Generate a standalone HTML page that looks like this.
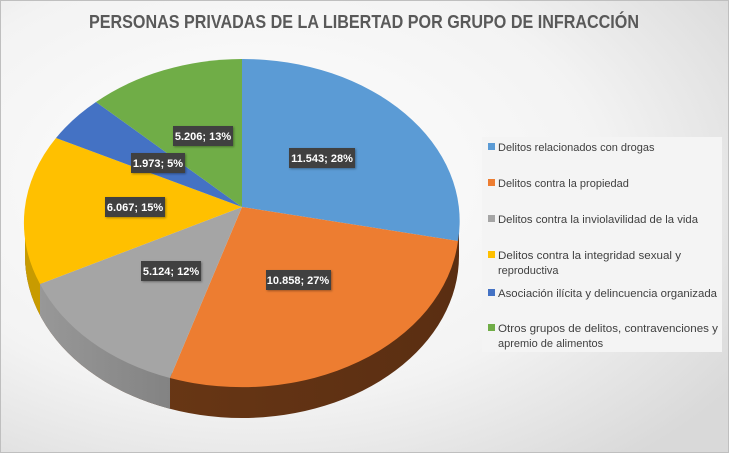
<!DOCTYPE html><html><head><meta charset="utf-8"><style>
html,body{margin:0;padding:0;width:729px;height:453px;overflow:hidden;background:#fff}
svg text{font-family:"Liberation Sans",sans-serif}
</style></head><body>
<svg width="729" height="453" viewBox="0 0 729 453" xmlns="http://www.w3.org/2000/svg">
<defs>
<radialGradient id="bg" cx="0.35" cy="0.4" r="0.8"><stop offset="0" stop-color="#ffffff"/><stop offset="0.6" stop-color="#f3f3f3"/><stop offset="1" stop-color="#d9d9d9"/></radialGradient>
<linearGradient id="gs" x1="0" x2="1" y1="0" y2="0"><stop offset="0" stop-color="#9a9a9a"/><stop offset="1" stop-color="#555"/></linearGradient>
<linearGradient id="os" x1="0" x2="1"><stop offset="0" stop-color="#6e3a16"/><stop offset="1" stop-color="#5a2e12"/></linearGradient>
<clipPath id="cg"><rect x="0" y="0" width="170" height="453"/></clipPath>
<clipPath id="cy"><rect x="0" y="0" width="40" height="453"/></clipPath>
<filter id="sh" x="-10%" y="-10%" width="130%" height="130%"><feDropShadow dx="1" dy="1" stdDeviation="1" flood-opacity="0.35"/></filter>
</defs>
<rect x="0.5" y="0.5" width="728" height="452" fill="url(#bg)" stroke="#bfbfbf"/>
<text x="364" y="28" text-anchor="middle" font-size="18" font-weight="bold" fill="#595959" textLength="550" lengthAdjust="spacingAndGlyphs">PERSONAS PRIVADAS DE LA LIBERTAD POR GRUPO DE INFRACCIÓN</text>
<g>
<path d="M25,220 A217,162 0 0 0 459,220 L459,256 A217,162 0 0 1 25,256 Z" fill="url(#os)"/>
<path d="M25,220 A217,162 0 0 0 459,220 L459,256 A217,162 0 0 1 25,256 Z" fill="url(#gs)" clip-path="url(#cg)"/>
<path d="M25,220 A217,162 0 0 0 459,220 L459,256 A217,162 0 0 1 25,256 Z" fill="#c89b00" clip-path="url(#cy)"/>
</g>
<path d="M242,207 L242,59 A217,162 0 0 1 458,241 Z" fill="#5b9bd5"/>
<path d="M242,207 L458,241 A217,162 0 0 1 170,378 Z" fill="#ed7d31"/>
<path d="M242,207 L170,378 A217,162 0 0 1 40,284 Z" fill="#a5a5a5"/>
<path d="M242,207 L40,284 A217,162 0 0 1 56,138 Z" fill="#ffc000"/>
<path d="M242,207 L56,138 A217,162 0 0 1 96,102 Z" fill="#4472c4"/>
<path d="M242,207 L96,102 A217,162 0 0 1 242,59 Z" fill="#70ad47"/>
<g font-size="11" font-weight="bold" fill="#fff" text-anchor="middle">
<rect x="289" y="148" width="66" height="20" fill="#404040" filter="url(#sh)"/><text x="322" y="162">11.543; 28%</text>
<rect x="266" y="270" width="65" height="20" fill="#404040" filter="url(#sh)"/><text x="298" y="284">10.858; 27%</text>
<rect x="141" y="261" width="60" height="20" fill="#404040" filter="url(#sh)"/><text x="171" y="275">5.124; 12%</text>
<rect x="105" y="197" width="60" height="20" fill="#404040" filter="url(#sh)"/><text x="135" y="211">6.067; 15%</text>
<rect x="131" y="153" width="54" height="20" fill="#404040" filter="url(#sh)"/><text x="158" y="167">1.973; 5%</text>
<rect x="173" y="126" width="60" height="20" fill="#404040" filter="url(#sh)"/><text x="203" y="140">5.206; 13%</text>
</g>
<rect x="482" y="137" width="240" height="215" fill="#f4f4f4"/>
<g font-size="11" fill="#404040">
<rect x="488" y="143" width="7" height="7" fill="#5b9bd5"/><text x="498" y="151">Delitos relacionados con drogas</text>
<rect x="488" y="179" width="7" height="7" fill="#ed7d31"/><text x="498" y="187">Delitos contra la propiedad</text>
<rect x="488" y="215" width="7" height="7" fill="#a5a5a5"/><text x="498" y="223" textLength="200" lengthAdjust="spacingAndGlyphs">Delitos contra la inviolavilidad de la vida</text>
<rect x="488" y="251" width="7" height="7" fill="#ffc000"/><text x="498" y="259" textLength="183" lengthAdjust="spacingAndGlyphs">Delitos contra la integridad sexual y</text><text x="498" y="274">reproductiva</text>
<rect x="488" y="289" width="7" height="7" fill="#4472c4"/><text x="498" y="297" textLength="219" lengthAdjust="spacingAndGlyphs">Asociación ilícita y delincuencia organizada</text>
<rect x="488" y="324" width="7" height="7" fill="#70ad47"/><text x="498" y="332" textLength="220" lengthAdjust="spacingAndGlyphs">Otros grupos de delitos, contravenciones y</text><text x="498" y="347">apremio de alimentos</text>
</g>
</svg>
</body></html>
